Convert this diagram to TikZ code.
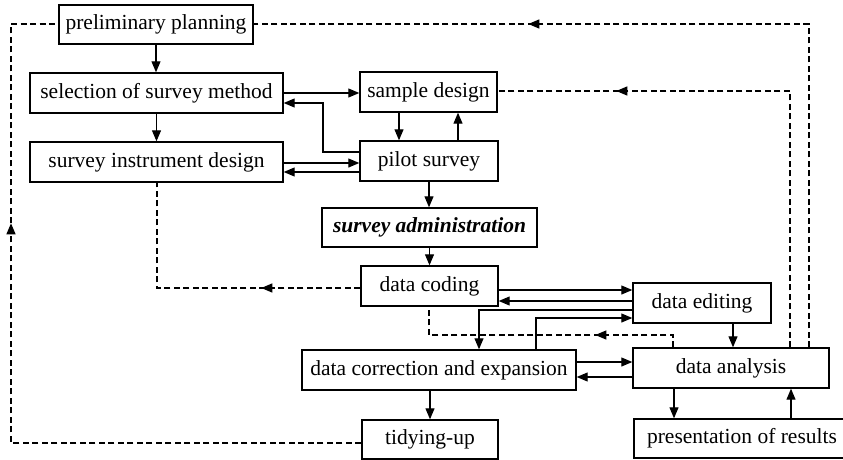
\documentclass[tikz,border=0pt]{standalone}
\usepackage{fontspec}
\setmainfont{Liberation Serif}
\usetikzlibrary{arrows.meta,decorations.markings,calc}
\begin{document}
\begin{tikzpicture}[x=1pt,y=-1pt,
  box/.style={draw,line width=1.4pt,inner sep=0pt,minimum height=40pt,font=\fontsize{21.5}{24}\selectfont},
  arr/.style={line width=1.1pt,-{Triangle[length=11pt,width=9pt]}},
  dsh/.style={line width=1.2pt,dash pattern=on 6pt off 3.5pt},
  midarr/.style={postaction={decorate},decoration={markings,mark=at position #1 with {\arrow{Triangle[length=11pt,width=9pt]}}}}
]
\useasboundingbox (0,0) rectangle (843,460);

% boxes
\node[box,minimum width=194pt,minimum height=39pt] (prelim) at (156,24.5) {preliminary planning};
\node[box,minimum width=253pt] (select) at (156.5,93) {selection of survey method};
\node[box,minimum width=253pt] (instr) at (156.5,162) {survey instrument design};
\node[box,minimum width=137pt] (sample) at (428.5,92) {sample design};
\node[box,minimum width=138pt] (pilot) at (429,161) {pilot survey};
\node[box,minimum width=215pt,minimum height=39pt] (admin) at (429.5,227.5) {\textbf{\textit{survey administration}}};
\node[box,minimum width=137pt] (coding) at (429.5,286) {data coding};
\node[box,minimum width=138pt] (editing) at (702,303) {data editing};
\node[box,minimum width=274pt] (correct) at (439,370) {data correction and expansion};
\node[box,minimum width=196pt] (analysis) at (731,368) {data analysis};
\node[box,minimum width=136pt,minimum height=39pt] (tidy) at (430,439.5) {tidying-up};
\node[box,minimum width=216pt,minimum height=39pt] (present) at (742,438.5) {presentation of results};

% solid connectors
\draw[arr] (prelim.south) -- (prelim.south |- select.north);
\draw[arr] (select.south) -- (instr.north);
\draw[arr] (select.east) -- (select.east -| sample.west);
\draw[arr] (pilot.west |- 0,152) -| (323,103) -- (select.east |- 0,103);
\draw[arr] (instr.east |- 0,163) -- (pilot.west |- 0,163);
\draw[arr] (pilot.west |- 0,172) -- (instr.east |- 0,172);
\draw[arr] (sample.south -| 399,0) -- (pilot.north -| 399,0);
\draw[arr] (pilot.north -| 458,0) -- (sample.south -| 458,0);
\draw[arr] (pilot.south) -- (pilot.south |- admin.north);
\draw[arr] (coding.north |- admin.south) -- (coding.north);
\draw[arr] (coding.east |- 0,290) -- (editing.west |- 0,290);
\draw[arr] (editing.west |- 0,301) -- (coding.east |- 0,301);
\draw[arr] (editing.west |- 0,310) -| (correct.north -| 479,0);
\draw[arr] (correct.north -| 536,0) |- (editing.west |- 0,318);
\draw[arr] (editing.south -| 733,0) -- (analysis.north -| 733,0);
\draw[arr] (correct.east |- 0,362) -- (analysis.west |- 0,362);
\draw[arr] (analysis.west |- 0,377) -- (correct.east |- 0,377);
\draw[arr] (correct.south -| 430,0) -- (tidy.north);
\draw[arr] (analysis.south -| 674,0) -- (present.north -| 674,0);
\draw[arr] (present.north -| 791,0) -- (analysis.south -| 791,0);

% dashed connectors
\draw[dsh,midarr=90pt] (analysis.north -| 673,0) |- (429,335) -- (coding.south -| 429,0);
\draw[dsh,midarr=99pt] (coding.west |- 0,288) -| (instr.south -| 157,0);
\draw[dsh,midarr=430pt] (analysis.north -| 790,0) |- (sample.east |- 0,91);
\draw[dsh,midarr=604pt] (analysis.north -| 809,0) |- (prelim.east |- 0,24);
\draw[dsh,midarr=570pt] (tidy.west |- 0,443) -| (11,24) -- (prelim.west |- 0,24);
\end{tikzpicture}
\end{document}
